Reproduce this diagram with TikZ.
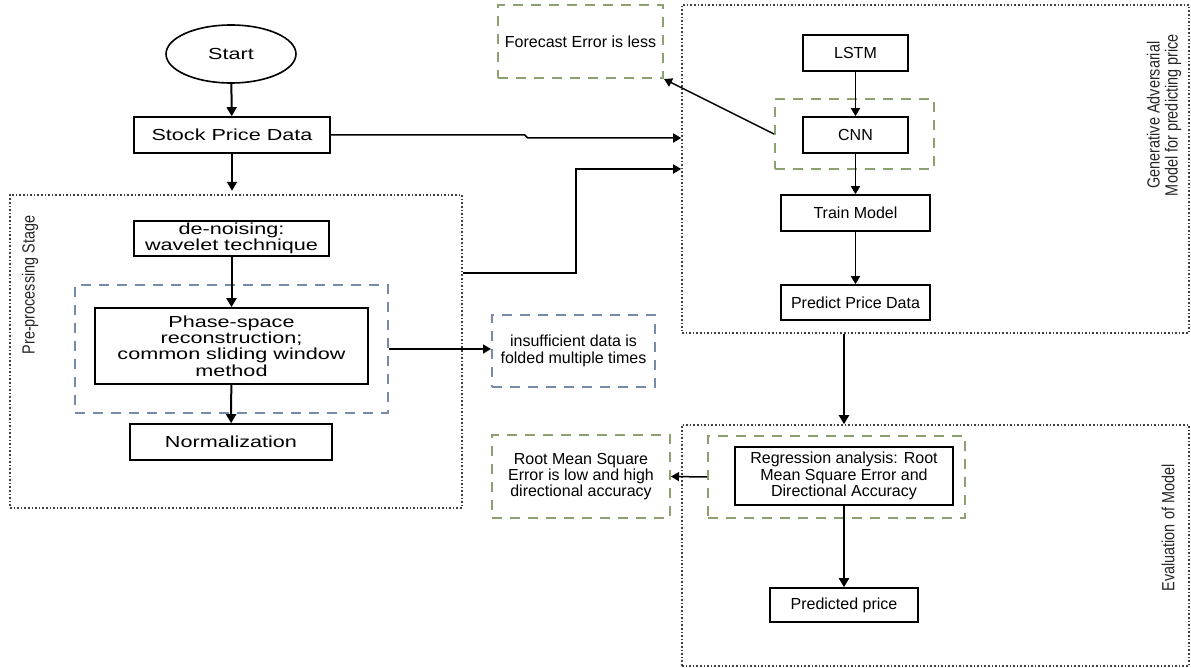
\documentclass[tikz,border=0pt]{standalone}
\usepackage{fontspec}
\setmainfont{Liberation Sans}
\newfontfamily\wideface[FakeStretch=1.35]{Liberation Sans}
\newfontfamily\narrowface[FakeStretch=0.82]{Liberation Sans}
\usetikzlibrary{arrows.meta,shapes.geometric,positioning}

\definecolor{grpgreen}{RGB}{140,160,112}
\definecolor{grpblue}{RGB}{118,138,170}

\tikzset{
  lbox/.style={draw,line width=0.8pt,inner sep=0pt,align=center,
    font=\wideface\fontsize{8}{8.2}\selectfont},
  rbox/.style={draw,line width=0.8pt,inner sep=0pt,align=center,
    font=\fontsize{8}{8.2}\selectfont},
  stage/.style={draw=black!75,line width=0.8pt,dash pattern=on 0.8pt off 1pt,inner sep=0pt},
  greengrp/.style={draw=grpgreen,line width=1pt,dash pattern=on 5pt off 4pt,inner sep=0pt,
    align=center,font=\fontsize{8}{8.2}\selectfont},
  bluegrp/.style={draw=grpblue,line width=1pt,dash pattern=on 5pt off 4pt,inner sep=0pt,
    align=center,font=\fontsize{8}{8.2}\selectfont},
  stagelbl/.style={rotate=90,align=center,text=black!85,font=\narrowface\fontsize{8.8}{9}\selectfont},
  arr/.style={-{Triangle[width=5pt,length=4.5pt]},line width=1pt},
  thinarr/.style={-{Triangle[width=4.5pt,length=4pt]},line width=0.75pt},
}

\begin{document}
\begin{tikzpicture}[x=0.5pt,y=-0.5pt]
   \useasboundingbox (0,0) rectangle (1191,668);

   % stages
   \node[stage,minimum width=226pt,minimum height=156.5pt] (pre) at (236,351.5) {};
   \node[stage,minimum width=253.5pt,minimum height=164pt] (gan) at (935.5,169) {};
   \node[stage,minimum width=253.5pt,minimum height=120.5pt] (evalst) at (935.5,545.5) {};
   \node[stagelbl] (prelbl) at (30,285) {Pre-processing Stage};
   \node[stagelbl] (ganlbl) at (1164,115) {Generative Adversarial\\Model for predicting price};
   \node[stagelbl] (evallbl) at (1168,528) {Evaluation of Model};

   % left column
   \node[ellipse,draw,line width=0.8pt,minimum width=65pt,minimum height=29pt,inner sep=0pt,
     font=\wideface\fontsize{8}{8.2}\selectfont] (start) at (231,54) {Start};
   \node[lbox,minimum width=98pt,minimum height=18pt] (stock) at (232,135) {Stock Price Data};
   \node[bluegrp,minimum width=156.5pt,minimum height=64pt] (blue) at (231.5,349) {};
   \node[lbox,minimum width=97.5pt,minimum height=17.5pt] (denoise) at (231.5,238.5) {de-noising:\\wavelet technique};
   \node[lbox,minimum width=136.5pt,minimum height=38pt] (phase) at (231.5,346)
     {Phase-space\\reconstruction;\\common sliding window\\method};
   \node[lbox,minimum width=101pt,minimum height=18pt] (norm) at (231,442) {Normalization};

   % side notes
   \node[bluegrp,minimum width=81.5pt,minimum height=36pt] (insuff) at (573.5,351)
     {insufficient data is\\folded multiple times};
   \node[greengrp,minimum width=82.5pt,minimum height=36.5pt] (forecast) at (580.5,41.5)
     {Forecast Error is less};
   \node[greengrp,minimum width=89pt,minimum height=41.5pt] (rmse) at (581,476.5)
     {Root Mean Square\\Error is low and high\\directional accuracy};

   % model
   \node[rbox,minimum width=52.5pt,minimum height=18pt] (lstm) at (855.5,53) {LSTM};
   \node[greengrp,minimum width=79.5pt,minimum height=35pt] (cnngrp) at (854.5,134) {};
   \node[rbox,minimum width=52.5pt,minimum height=18pt] (cnn) at (855.5,135) {CNN};
   \node[rbox,minimum width=74.5pt,minimum height=18pt] (train) at (855.5,213) {Train Model};
   \node[rbox,minimum width=74.5pt,minimum height=17.5pt] (predict) at (855.5,302.5) {Predict Price Data};

   % evaluation
   \node[greengrp,minimum width=128.5pt,minimum height=41pt] (reggrp) at (836.5,477) {};
   \node[rbox,minimum width=109pt,minimum height=29pt] (reg) at (844,476)
     {Regression analysis: Root\\Mean Square Error and\\Directional Accuracy};
   \node[rbox,minimum width=74pt,minimum height=17pt] (pred) at (844,605) {Predicted price};

   % connectors
   \draw[arr] (start) -- (stock);
   \draw[arr] (stock.south) -- ++(0,37);
   \draw[arr] (denoise) -- (phase);
   \draw[arr] (phase) -- (norm);
   \draw[thinarr] (blue.east) -- (blue.east -| insuff.west);
   \draw[thinarr] (stock.east) -- ++(194,0) -- ++(3,3) -- ([yshift=15.5pt]gan.west);
   \draw[thinarr] ([yshift=39.25pt]pre.east) -- ++(113,0) |- (gan.west);
   \draw[thinarr] (cnngrp.west) -- (forecast.south east);
   \draw[thinarr] (lstm) -- (cnn);
   \draw[thinarr] (cnn) -- (train);
   \draw[thinarr] (train) -- (predict);
   \draw[arr] (reg.north |- gan.south) -- (reg.north |- evalst.north);
   \draw[arr] (reg) -- (pred);
   \draw[thinarr] (reggrp.west) -- (rmse.east);

\end{tikzpicture}
\end{document}
